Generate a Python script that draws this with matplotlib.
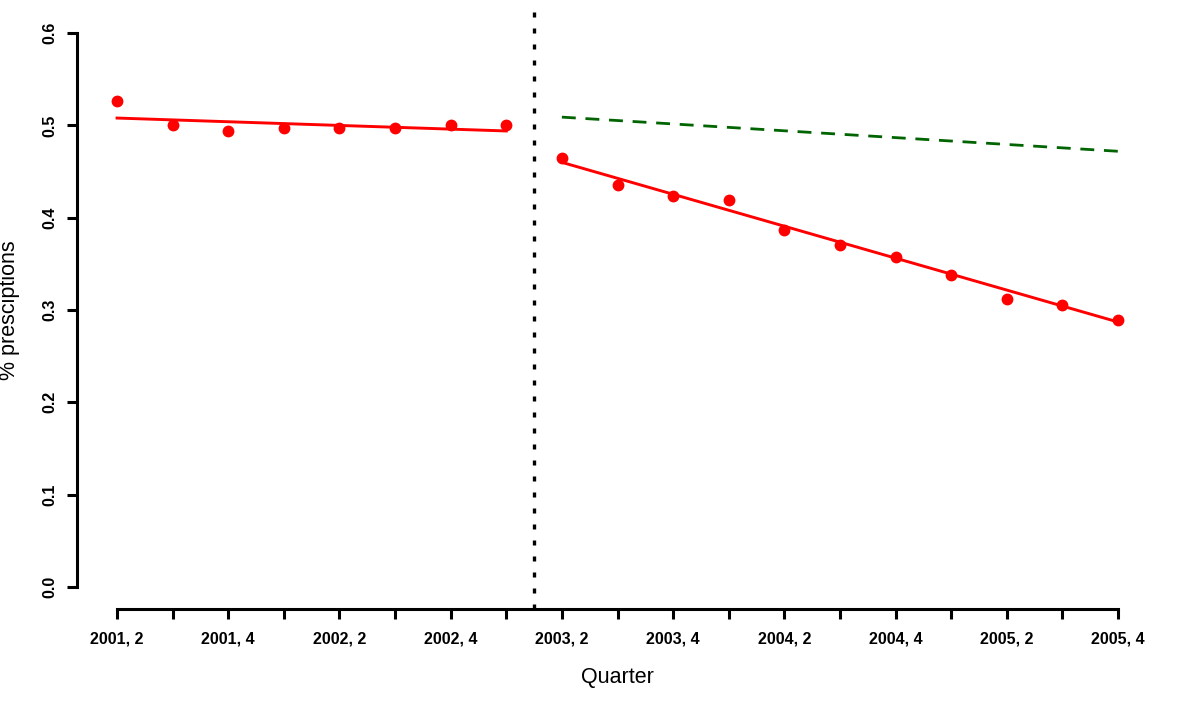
import numpy as np
import matplotlib
matplotlib.use('Agg')
import matplotlib.pyplot as plt

# quarterly share of prescriptions, 2001 Q2 .. 2005 Q4
quarter_idx = np.arange(1, 20)
share = [0.527, 0.500, 0.494, 0.497, 0.497, 0.497, 0.500, 0.501,
         0.465, 0.435, 0.423, 0.419, 0.387, 0.370, 0.357, 0.338,
         0.312, 0.305, 0.289]
tick_labels = ['2001, 2', '', '2001, 4', '', '2002, 2', '', '2002, 4', '',
               '2003, 2', '', '2003, 4', '', '2004, 2', '', '2004, 4', '',
               '2005, 2', '', '2005, 4']

# fitted segments (start/end quarter, start/end value)
pre_fit_x = [1, 8]
pre_fit_y = [0.508, 0.494]
post_fit_x = [9, 19]
post_fit_y = [0.460, 0.287]
counterfactual_x = [9, 19]
counterfactual_y = [0.509, 0.472]
intervention = 8.5

plt.rcParams['font.family'] = ['Liberation Sans', 'DejaVu Sans']

fig = plt.figure(figsize=(11.95, 7.02), dpi=100)
ax = fig.add_axes([77 / 1195, 93 / 702, 1081 / 1195, 598 / 702])

ax.plot(quarter_idx, share, 'o', color='red', markersize=7.5, zorder=3)
ax.plot(pre_fit_x, pre_fit_y, '-', color='red', lw=2.1)
ax.plot(post_fit_x, post_fit_y, '-', color='red', lw=2.1)
ax.plot(counterfactual_x, counterfactual_y, color='#006400', lw=2,
        linestyle=(0, (5, 3.5)))
ax.axvline(intervention, color='black', lw=2.4, linestyle=(0, (1.5, 3.3)))

ax.set_xlim(0.28, 19.72)
ax.set_ylim(-0.024, 0.624)

for side in ['top', 'right']:
    ax.spines[side].set_visible(False)
ax.spines['left'].set_bounds(0, 0.6)
ax.spines['bottom'].set_bounds(1, 19)
ax.spines['left'].set_linewidth(2.2)
ax.spines['bottom'].set_linewidth(2.2)

ax.set_xticks(quarter_idx)
ax.set_xticklabels(tick_labels, fontsize=11.5, fontweight='bold')
ax.set_yticks(np.arange(0, 0.61, 0.1))
ax.set_yticklabels(['%.1f' % v for v in np.arange(0, 0.61, 0.1)],
                   fontsize=11.5, fontweight='bold', rotation=90, va='center')
ax.tick_params(axis='both', length=7, width=2.2, direction='out')
ax.tick_params(axis='x', pad=9)
ax.tick_params(axis='y', pad=7)

ax.set_xlabel('Quarter', fontsize=15.5, labelpad=15)
ax.set_ylabel('% presciptions', fontsize=15.5, labelpad=16)

fig.savefig('out.png', dpi=100)
